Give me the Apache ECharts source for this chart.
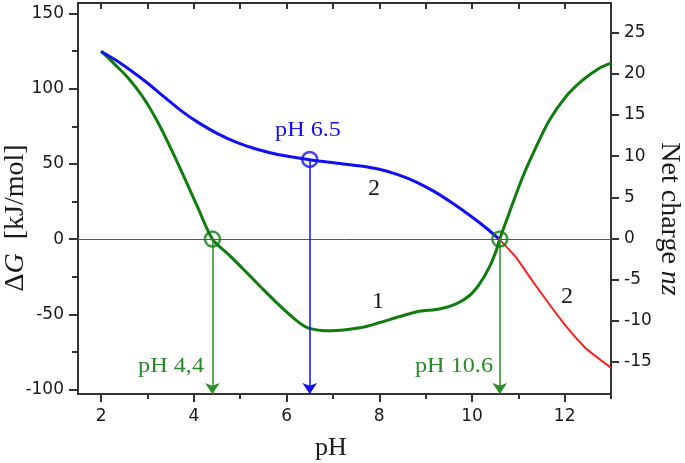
<!DOCTYPE html>
<html>
<head>
<meta charset="utf-8">
<script src="https://cdn.jsdelivr.net/npm/echarts@6/dist/echarts.min.js"></script>
<style>
html,body{margin:0;padding:0;background:#fff;}
#c{width:685px;height:463px;}
</style>
</head>
<body>
<div id="c"></div>
<script>
// Curve 1 (green), left axis ΔG [kJ/mol]
const pH1 = [2.0, 2.3, 2.6, 2.9, 3.2, 3.5, 3.8, 4.1, 4.4, 4.74, 5.10, 5.45, 5.81, 6.17, 6.46, 6.96, 7.58, 8.01, 8.44, 8.87, 9.30, 9.66, 9.95, 10.16, 10.37, 10.52, 10.60, 10.80, 11.09, 11.38, 11.67, 12.02, 12.38, 12.74, 13.0];
const val1 = [125, 116, 106.5, 94.5, 79, 60.5, 40.5, 20, 0, -10, -21, -32, -43, -53, -59, -61, -59, -55.5, -51.5, -48, -46.5, -43, -37.5, -30, -19, -8, 0, 17, 41, 61, 79, 94.5, 105.5, 113.5, 117];
// Curve 2 (blue part, above zero), right axis net charge
const pH2blue = [2.0, 2.44, 2.95, 3.38, 3.73, 4.09, 4.52, 4.95, 5.38, 5.81, 6.46, 7.15, 7.6, 8.0, 8.4, 8.8, 9.2, 9.6, 10.0, 10.3, 10.57];
const val2blue = [22.7, 21.2, 19.1, 17.1, 15.5, 14.1, 12.7, 11.6, 10.8, 10.2, 9.6, 9.1, 8.8, 8.4, 7.75, 6.85, 5.65, 4.2, 2.6, 1.3, 0];
// Curve 2 (red part, below zero)
const pH2red = [10.57, 10.95, 11.31, 11.67, 12.02, 12.45, 13.0];
const val2red = [0, -2.3, -5.2, -8.0, -10.6, -13.3, -15.7];
// Marked points
const isoPH = [4.4, 10.6];
const bluePH = 6.5;
const blueVal = 9.6;
// Tick labels
const xMajor = [2, 4, 6, 8, 10, 12];
const xMinor = [3, 5, 7, 9, 11, 13];
const xTop = [2, 3, 4, 5, 6, 7, 8, 9, 10, 11, 12];
const yLeftMajor = [-100, -50, 0, 50, 100, 150];
const yLeftMinor = [-75, -25, 25, 75, 125];
const yRightMajor = [-15, -10, -5, 0, 5, 10, 15, 20, 25];

const X_MIN = 1.5, X_MAX = 13;
const YL_MIN = -103, YL_MAX = 157;
const YR_MIN = -18.9, YR_MAX = 28.6;

const GREEN = '#0e7d0e';
const GREEN_T = '#268a26';
const BLUE = '#1010f5';
const RED = '#ff1e1e';
const AX = '#333';
const tickFont = { fontFamily: 'DejaVu Sans', fontSize: 17, color: '#1a1a1a' };
const serif = '"Liberation Serif", "Times New Roman", serif';

const zip = (a, b) => a.map((x, i) => [x, b[i]]);

const chart = echarts.init(document.getElementById('c'), null, { renderer: 'canvas' });
chart.setOption({
  animation: false,
  backgroundColor: '#fff',
  grid: { left: 78, right: 74, top: 3, bottom: 69, containLabel: false },
  xAxis: [
    { type: 'value', position: 'bottom', min: X_MIN, max: X_MAX,
      axisLine: { show: true, onZero: false, lineStyle: { color: AX, width: 2 } },
      axisTick: { show: true, inside: false, length: 8, customValues: xMajor, lineStyle: { color: AX, width: 2 } },
      axisLabel: { show: true, customValues: xMajor, margin: 14, ...tickFont },
      splitLine: { show: false } },
    { type: 'value', position: 'bottom', min: X_MIN, max: X_MAX,
      axisLine: { show: false, onZero: false },
      axisTick: { show: true, inside: false, length: 5, customValues: xMinor, lineStyle: { color: AX, width: 2 } },
      axisLabel: { show: false }, splitLine: { show: false } },
    { type: 'value', position: 'top', min: X_MIN, max: X_MAX,
      axisLine: { show: true, onZero: false, lineStyle: { color: AX, width: 2 } },
      axisTick: { show: true, inside: true, length: 6, customValues: xTop, lineStyle: { color: AX, width: 2 } },
      axisLabel: { show: false }, splitLine: { show: false } }
  ],
  yAxis: [
    { type: 'value', position: 'left', min: YL_MIN, max: YL_MAX,
      axisLine: { show: true, onZero: false, lineStyle: { color: AX, width: 2 } },
      axisTick: { show: true, inside: false, length: 9, customValues: yLeftMajor, lineStyle: { color: AX, width: 2 } },
      axisLabel: { show: true, customValues: yLeftMajor, margin: 14, ...tickFont },
      splitLine: { show: false } },
    { type: 'value', position: 'left', min: YL_MIN, max: YL_MAX,
      axisLine: { show: false, onZero: false },
      axisTick: { show: true, inside: false, length: 6, customValues: yLeftMinor, lineStyle: { color: AX, width: 2 } },
      axisLabel: { show: false }, splitLine: { show: false } },
    { type: 'value', position: 'right', min: YR_MIN, max: YR_MAX,
      axisLine: { show: true, onZero: false, lineStyle: { color: AX, width: 2 } },
      axisTick: { show: true, inside: false, length: 8, customValues: yRightMajor, lineStyle: { color: AX, width: 2 } },
      axisLabel: { show: true, customValues: yRightMajor, margin: 13, ...tickFont },
      splitLine: { show: false } }
  ],
  series: [
    { name: 'curve1', type: 'line', xAxisIndex: 0, yAxisIndex: 0, data: zip(pH1, val1),
      smooth: 0.3, symbol: 'none', lineStyle: { color: GREEN, width: 3 }, z: 3,
      markLine: { silent: true, symbol: 'none', label: { show: false },
        lineStyle: { color: '#555', width: 1, type: 'solid' }, data: [{ yAxis: 0 }] } },
    { name: 'curve2blue', type: 'line', xAxisIndex: 0, yAxisIndex: 2, data: zip(pH2blue, val2blue),
      smooth: 0.3, symbol: 'none', lineStyle: { color: BLUE, width: 3 }, z: 3 },
    { name: 'curve2red', type: 'line', xAxisIndex: 0, yAxisIndex: 2, data: zip(pH2red, val2red),
      smooth: 0.2, symbol: 'none', lineStyle: { color: RED, width: 2 }, z: 3 },
    { name: 'iso', type: 'scatter', xAxisIndex: 0, yAxisIndex: 0, data: isoPH.map(x => [x, 0]),
      symbol: 'circle', symbolSize: 15, z: 5,
      itemStyle: { color: 'rgba(0,0,0,0)', borderColor: GREEN, borderWidth: 2.5 },
      markLine: { silent: true, symbol: ['none', 'arrow'], symbolSize: 11, label: { show: false },
        lineStyle: { color: '#2a8f2a', width: 1.5, type: 'solid' },
        data: isoPH.map(x => [{ coord: [x, 0] }, { coord: [x, YL_MIN] }]) } },
    { name: 'blueMark', type: 'scatter', xAxisIndex: 0, yAxisIndex: 2, data: [[bluePH, blueVal]],
      symbol: 'circle', symbolSize: 15, z: 5,
      itemStyle: { color: 'rgba(0,0,0,0)', borderColor: BLUE, borderWidth: 2.5 },
      markLine: { silent: true, symbol: ['none', 'arrow'], symbolSize: 11, label: { show: false },
        lineStyle: { color: BLUE, width: 1.5, type: 'solid' },
        data: [[{ coord: [bluePH, blueVal] }, { coord: [bluePH, YR_MIN] }]] } }
  ],
  graphic: [
    { type: 'text', x: 331, y: 448, style: { text: 'pH', font: '26px ' + serif, fill: '#1a1a1a', textAlign: 'center', textVerticalAlign: 'middle' } },
    { type: 'text', x: 16, y: 218, rotation: Math.PI / 2,
      style: { text: '{a|Δ}{b|G}{a|  [kJ/mol]}', textAlign: 'center', textVerticalAlign: 'middle',
        rich: { a: { fontFamily: serif, fontSize: 28, fill: '#1a1a1a' }, b: { fontFamily: serif, fontSize: 28, fontStyle: 'italic', fill: '#1a1a1a' } } } },
    { type: 'text', x: 669, y: 219, rotation: -Math.PI / 2,
      style: { text: '{a|Net charge }{b|nz}', textAlign: 'center', textVerticalAlign: 'middle',
        rich: { a: { fontFamily: serif, fontSize: 28, fill: '#1a1a1a' }, b: { fontFamily: serif, fontSize: 28, fontStyle: 'italic', fill: '#1a1a1a' } } } },
    { type: 'text', x: 308, y: 130, scaleX: 1.1, style: { text: 'pH 6.5', font: '22px ' + serif, fill: BLUE, textAlign: 'center', textVerticalAlign: 'middle' } },
    { type: 'text', x: 374, y: 189, style: { text: '2', font: '24px ' + serif, fill: '#1a1a1a', textAlign: 'center', textVerticalAlign: 'middle' } },
    { type: 'text', x: 378, y: 302, style: { text: '1', font: '24px ' + serif, fill: '#1a1a1a', textAlign: 'center', textVerticalAlign: 'middle' } },
    { type: 'text', x: 567, y: 297, style: { text: '2', font: '24px ' + serif, fill: '#1a1a1a', textAlign: 'center', textVerticalAlign: 'middle' } },
    { type: 'text', x: 204, y: 366, scaleX: 1.1, style: { text: 'pH 4,4', font: '22px ' + serif, fill: GREEN_T, textAlign: 'right', textVerticalAlign: 'middle' } },
    { type: 'text', x: 493, y: 366, scaleX: 1.1, style: { text: 'pH 10.6', font: '22px ' + serif, fill: GREEN_T, textAlign: 'right', textVerticalAlign: 'middle' } }
  ]
});
</script>
</body>
</html>
